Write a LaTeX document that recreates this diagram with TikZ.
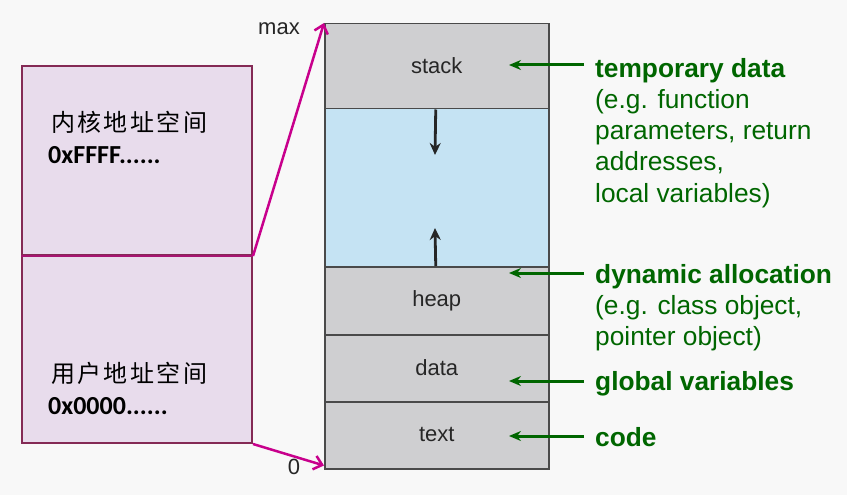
\documentclass[tikz,border=0pt]{standalone}
\usepackage{fontspec}
\setmainfont{Liberation Sans}
\newfontfamily\cjkfont[LetterSpace=10]{Noto Sans CJK SC}
\newfontfamily\calfont{Carlito}
\usetikzlibrary{arrows.meta}
\definecolor{bgc}{HTML}{F8F8F8}
\definecolor{seggray}{HTML}{CFCFD1}
\definecolor{segblue}{HTML}{C5E3F3}
\definecolor{segline}{HTML}{4A4A4A}
\definecolor{lilac}{HTML}{E8DCEC}
\definecolor{plum}{HTML}{842A55}
\definecolor{magarrow}{HTML}{C8008C}
\definecolor{darkgreen}{HTML}{006600}
\tikzset{
  seg/.style={draw=segline, line width=1.5pt, minimum width=224pt, anchor=north west, inner sep=0pt,
    font=\fontsize{22}{26}\selectfont, text=black!85},
  leftbox/.style={draw=plum, fill=lilac, line width=2pt, minimum width=230pt, anchor=north west, inner sep=0pt},
  cjklabel/.style={anchor=west, inner sep=0pt, font=\cjkfont\fontsize{24}{28}\selectfont},
  hexlabel/.style={anchor=west, inner sep=0pt, font=\calfont\bfseries\fontsize{26}{30}\selectfont},
  marrow/.style={draw=magarrow, line width=2.5pt, -{Straight Barb[length=8pt,width=14pt]}},
  barrow/.style={draw=black!85, line width=2.8pt, -{Stealth[length=12pt,width=11pt]}},
  garrow/.style={draw=darkgreen, line width=3pt, -{Stealth[length=12pt,width=10pt]}},
  gtext/.style={anchor=north west, inner sep=0pt, align=left, text=darkgreen,
    font=\fontsize{26.3}{31.2}\selectfont},
  axis/.style={inner sep=0pt, font=\fontsize{22}{26}\selectfont, text=black!85}
}
\begin{document}
\begin{tikzpicture}[x=1pt,y=-1pt]
\useasboundingbox (0,0) rectangle (847,495);
\fill[bgc] (0,0) rectangle (847,495);

% left address-space box
\node[leftbox, minimum height=189pt] (kernel) at (21,65) {};
\node[leftbox, minimum height=188pt] (user) at (21,254) {};
\draw[draw=plum!50!magarrow, line width=1.5pt] (kernel.south west) -- (kernel.south east);
\node[cjklabel] (kt) at (51,122) {内核地址空间};
\node[hexlabel] (kh) at (48,155) {0xFFFF......};
\node[cjklabel] (ut) at (51,373) {用户地址空间};
\node[hexlabel] (uh) at (48,406) {0x0000......};

% memory layout column
\node[seg, fill=seggray, minimum height=85pt] (stack) at (324,23) {\raisebox{2pt}{stack}};
\node[seg, fill=segblue, minimum height=158pt] (free) at (324,108) {};
\node[seg, fill=seggray, minimum height=68pt] (heap) at (324,266) {heap};
\node[seg, fill=seggray, minimum height=67pt] (data) at (324,334) {\raisebox{2pt}{data}};
\node[seg, fill=seggray, minimum height=67pt] (text) at (324,401) {\raisebox{2pt}{text}};

\node[axis] (max) at (279,29) {max};
\node[axis] (zero) at (294,467) {0};

% magenta mapping arrows
\draw[marrow] (kernel.south east) -- (stack.north west);
\draw[marrow] (user.south east) -- ([yshift=4pt]text.south west);

% growth arrows
\coordinate (sd) at (435,155);
\coordinate (hu) at (435,228);
\draw[barrow] ([xshift=-1pt]stack.south) -- (sd);
\draw[barrow] ([xshift=-1pt]heap.north) -- (hu);

% green annotations
\coordinate (g1s) at (584,65);  \coordinate (g1e) at (509,65);
\coordinate (g2s) at (584,273); \coordinate (g2e) at (509,273);
\coordinate (g3s) at (584,381); \coordinate (g3e) at (509,381);
\coordinate (g4s) at (584,436); \coordinate (g4e) at (509,436);
\draw[garrow] (g1s) -- (g1e);
\draw[garrow] (g2s) -- (g2e);
\draw[garrow] (g3s) -- (g3e);
\draw[garrow] (g4s) -- (g4e);

\node[gtext] (t1) at (595,58) {\textbf{temporary data}\\(e.g. function\\parameters, return\\addresses,\\local variables)};
\node[gtext] (t2) at (595,264) {\textbf{dynamic allocation}\\(e.g. class object,\\pointer object)};
\node[gtext] (t3) at (595,371) {\textbf{global variables}};
\node[gtext] (t4) at (595,427) {\textbf{code}};
\end{tikzpicture}
\end{document}
